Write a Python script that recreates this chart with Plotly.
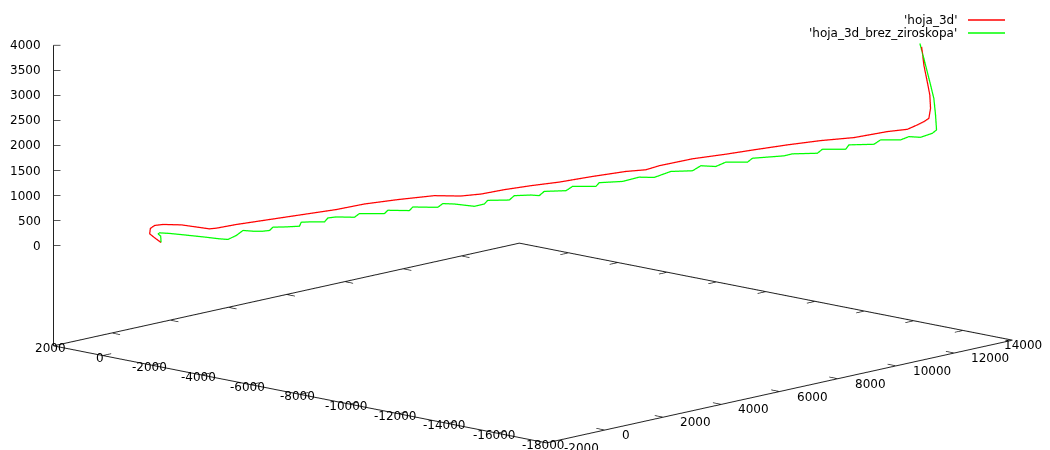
import plotly.graph_objects as go

# ---- data ----
red_x = [0, 136, 243, 228, 136, -43, -432, -1029, -1178, -1604, -2314, -3025, -3735, -4338, -5049, -5829, -6398, -6824, -7320, -7889, -8492, -9203, -9913, -10339, -10622, -11334, -12043, -12646, -13358, -14067, -14777, -15488, -15914, -16127, -16268, -16374, -16410, -16395, -16340, -16268, -16234, -16220]
red_y = [0, -104, -185, -174, -104, 33, 330, 786, 900, 1225, 1767, 2310, 2852, 3312, 3856, 4451, 4885, 5211, 5590, 6024, 6485, 7028, 7570, 7895, 8112, 8655, 9197, 9657, 10200, 10742, 11284, 11827, 12153, 12315, 12423, 12504, 12532, 12520, 12478, 12423, 12397, 12386]
red_z = [0, 94, 174, 281, 341, 360, 352, 272, 285, 358, 457, 556, 654, 765, 852, 930, 922, 961, 1048, 1127, 1198, 1310, 1409, 1442, 1522, 1660, 1751, 1838, 1936, 2021, 2080, 2199, 2244, 2331, 2397, 2462, 2661, 2928, 3193, 3526, 3791, 3890]

green_x = [0, 8, 64, 30, -183, -539, -895, -1248, -1427, -1604, -1747, -1960, -2173, -2314, -2386, -2669, -2953, -2989, -3166, -3485, -3558, -3735, -4125, -4231, -4764, -4836, -5296, -5369, -5901, -6008, -6255, -6681, -6894, -6966, -7427, -7533, -7889, -8066, -8172, -8635, -8777, -9274, -9344, -9843, -10196, -10516, -10872, -11334, -11511, -11830, -12043, -12505, -12612, -13285, -13464, -13997, -14103, -14600, -14670, -15203, -15345, -15771, -15948, -16198, -16447, -16538, -16517, -16481, -16411, -16340, -16268, -16183]
green_y = [0, -6, -49, -23, 140, 412, 683, 953, 1090, 1225, 1334, 1497, 1659, 1767, 1822, 2038, 2255, 2282, 2418, 2662, 2717, 2852, 3150, 3231, 3638, 3693, 4044, 4100, 4506, 4588, 4776, 5102, 5265, 5320, 5671, 5753, 6024, 6159, 6241, 6594, 6703, 7082, 7136, 7516, 7786, 8030, 8302, 8655, 8790, 9034, 9197, 9550, 9631, 10145, 10282, 10688, 10770, 11149, 11203, 11609, 11718, 12044, 12179, 12369, 12559, 12629, 12613, 12585, 12532, 12478, 12423, 12358]
green_z = [0, 127, 173, 193, 181, 147, 112, 72, 60, 139, 239, 224, 224, 238, 304, 309, 323, 402, 408, 408, 487, 507, 500, 574, 573, 639, 632, 704, 697, 771, 763, 716, 762, 835, 841, 928, 940, 928, 1013, 1026, 1112, 1111, 1185, 1210, 1295, 1289, 1408, 1421, 1521, 1506, 1592, 1591, 1670, 1717, 1757, 1768, 1848, 1847, 1935, 1946, 2033, 2033, 2098, 2084, 2163, 2231, 2530, 2861, 3128, 3393, 3658, 3957]

series_names = ["'hoja_3d'", "'hoja_3d_brez_ziroskopa'"]
series_colors = ["#ff0000", "#00ff00"]

x_range = [2000, -18000]
y_range = [-2000, 14000]
z_range = [-2000, 4000]
x_ticks = list(range(2000, -18001, -2000))
y_ticks = list(range(-2000, 14001, 2000))
z_ticks = list(range(0, 4001, 500))

FRAME = "#222222"
x_lo, x_hi = x_range          # x_lo = 2000 (back), x_hi = -18000 (front)
y_lo, y_hi = y_range
z_base = z_range[0]

fig = go.Figure()

# base frame (back edges of the base plane), nudged just inside the box
ex = (x_lo - x_hi) * 1e-4
ey = (y_hi - y_lo) * 1e-4
ez = (z_range[1] - z_range[0]) * 1e-4
fig.add_trace(go.Scatter3d(
    x=[x_lo - ex, x_lo - ex, x_hi + ex],
    y=[y_lo + ey, y_hi - ey, y_hi - ey],
    z=[z_base + ez] * 3,
    mode="lines", line=dict(color=FRAME, width=2),
    showlegend=False, hoverinfo="skip"))

# gnuplot-style inward tick marks on the base border and on the z axis
tx = (x_lo - x_hi) * 0.017
ty = (y_hi - y_lo) * 0.018
tk_x, tk_y, tk_z = [], [], []
for v in x_ticks:
    for y0, y1 in [(y_lo + ey, y_lo + ty), (y_hi - ey, y_hi - ty)]:
        tk_x += [v, v, None]; tk_y += [y0, y1, None]; tk_z += [z_base + ez, z_base + ez, None]
for v in y_ticks:
    for x0, x1 in [(x_hi + ex, x_hi + tx), (x_lo - ex, x_lo - tx)]:
        tk_x += [x0, x1, None]; tk_y += [v, v, None]; tk_z += [z_base + ez, z_base + ez, None]
for v in z_ticks:
    tk_x += [x_lo - ex, x_lo - (x_lo - x_hi) * 0.0075, None]
    tk_y += [y_lo + ey, y_lo + (y_hi - y_lo) * 0.0071, None]
    tk_z += [v, v, None]
fig.add_trace(go.Scatter3d(x=tk_x, y=tk_y, z=tk_z, mode="lines",
                           line=dict(color=FRAME, width=1.5),
                           showlegend=False, hoverinfo="skip", connectgaps=False))

for xs, ys, zs, nm, col in [(red_x, red_y, red_z, series_names[0], series_colors[0]),
                            (green_x, green_y, green_z, series_names[1], series_colors[1])]:
    fig.add_trace(go.Scatter3d(x=xs, y=ys, z=zs, mode="lines", name=nm,
                               line=dict(color=col, width=2.5), showlegend=False))

axis_common = dict(showgrid=False, showbackground=False, zeroline=False, showline=True,
                   linecolor=FRAME, linewidth=2, ticks="", showticklabels=False,
                   showspikes=False, title=dict(text=""))

# tick labels placed like gnuplot (text annotations anchored at the tick positions)
lab_font = dict(family="DejaVu Sans", size=12, color="black")
scene_ann = []
for v in x_ticks:
    scene_ann.append(dict(x=v, y=y_lo, z=z_base, text=str(v), showarrow=False,
                          xanchor="center", yanchor="middle", xshift=-3, yshift=-2,
                          font=lab_font))
for v in y_ticks:
    scene_ann.append(dict(x=x_hi, y=v, z=z_base, text=str(v), showarrow=False,
                          xanchor="left", yanchor="middle",
                          xshift=-10 if v == y_ticks[-1] else 15, yshift=-5,
                          font=lab_font))
for v in z_ticks:
    scene_ann.append(dict(x=x_lo, y=y_lo, z=v, text=str(v), showarrow=False,
                          xanchor="right", yanchor="middle", xshift=-11, yshift=0,
                          font=lab_font))

f = 3.015
cen = dict(x=0, y=0, z=-0.183)
view_dir = (0.687, -0.727, 0.213)
k = 10
fig.update_layout(
    width=1050, height=450,
    margin=dict(l=0, r=0, t=0, b=0),
    paper_bgcolor="white",
    font=dict(family="DejaVu Sans", size=12, color="black"),
    scene=dict(
        domain=dict(x=[0, 1], y=[0, 1]),
        xaxis=dict(range=x_range, tickvals=x_ticks, **axis_common),
        yaxis=dict(range=y_range, tickvals=y_ticks, **axis_common),
        zaxis=dict(range=z_range, tickvals=z_ticks, **axis_common),
        aspectmode="manual",
        aspectratio=dict(x=1 * f, y=1 * f, z=0.453 * f),
        camera=dict(projection=dict(type="orthographic"),
                    up=dict(x=0, y=0, z=1),
                    center=cen,
                    eye=dict(x=cen["x"] + view_dir[0] * k,
                             y=cen["y"] + view_dir[1] * k,
                             z=cen["z"] + view_dir[2] * k)),
        annotations=scene_ann,
    ),
)

# key (gnuplot style: text right-aligned, sample line to the right)
for i, (nm, col) in enumerate(zip(series_names, series_colors)):
    yy = 1 - (12 + 13 * i) / 450
    fig.add_annotation(xref="paper", yref="paper", x=951 / 1050, y=yy, text=nm,
                       showarrow=False, xanchor="right", yanchor="middle",
                       font=lab_font)
    fig.add_shape(type="line", xref="paper", yref="paper",
                  x0=960 / 1050, x1=997 / 1050, y0=yy, y1=yy,
                  line=dict(color=col, width=1.5))

fig.write_html("out.html")
